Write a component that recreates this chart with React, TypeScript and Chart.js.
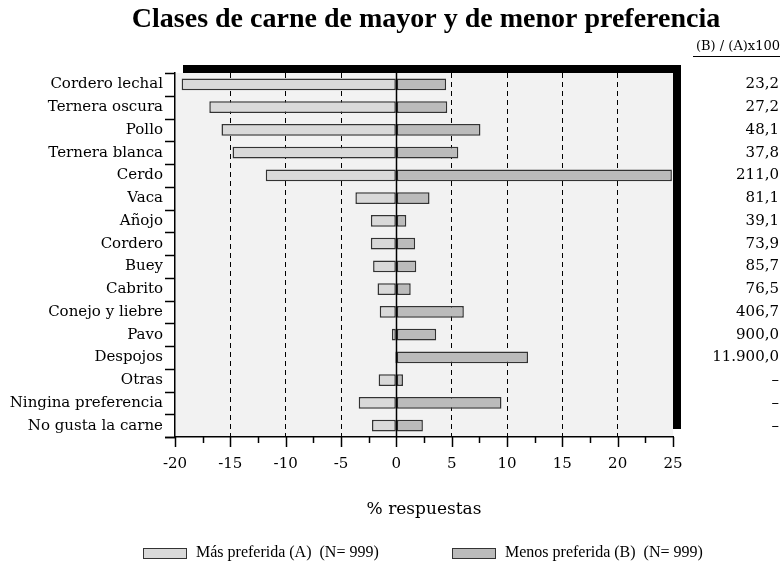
import React, { useEffect, useRef } from "react";
import { Chart, registerables } from "chart.js";

Chart.register(...registerables);

const categories = [
  "Cordero lechal",
  "Ternera oscura",
  "Pollo",
  "Ternera blanca",
  "Cerdo",
  "Vaca",
  "Añojo",
  "Cordero",
  "Buey",
  "Cabrito",
  "Conejo y liebre",
  "Pavo",
  "Despojos",
  "Otras",
  "Ningina preferencia",
  "No gusta la carne",
];
const masPreferida = [-19.4, -16.9, -15.8, -14.8, -11.8, -3.7, -2.3, -2.3, -2.1, -1.7, -1.5, -0.4, -0.1, -1.6, -3.4, -2.2];
const menosPreferida = [4.5, 4.6, 7.6, 5.6, 24.9, 3.0, 0.9, 1.7, 1.8, 1.3, 6.1, 3.6, 11.9, 0.6, 9.5, 2.4];
const ratioLabels = ["23,2", "27,2", "48,1", "37,8", "211,0", "81,1", "39,1", "73,9", "85,7", "76,5", "406,7", "900,0", "11.900,0", "–", "–", "–"];
const xMin = -20;
const xMax = 25;
const xStep = 5;
const titleText = "Clases de carne de mayor y de menor preferencia";
const ratioHeader = "(B) / (A)x100";
const axisTitle = "% respuestas";
const legendA = "Más preferida (A)  (N= 999)";
const legendB = "Menos preferida (B)  (N= 999)";

const colorA = "#d9d9d9";
const colorB = "#bbbbbb";
const SERIF = '"DejaVu Serif", serif';

const decorPlugin = {
  id: "decor",
  beforeDraw(chart: any) {
    const { ctx, chartArea } = chart;
    const { left, right, top, bottom } = chartArea;
    ctx.save();
    ctx.fillStyle = "#fff";
    ctx.fillRect(0, 0, chart.width, chart.height);
    ctx.fillStyle = "#000";
    ctx.fillRect(left + 8, top - 8, right - left, bottom - top);
    ctx.fillStyle = "#f2f2f2";
    ctx.fillRect(left, top, right - left, bottom - top);
    ctx.restore();
  },
  afterDatasetsDraw(chart: any) {
    const { ctx, chartArea, scales } = chart;
    const { left, top, bottom } = chartArea;
    const xs = scales.x;
    const ys = scales.y;
    ctx.save();
    const x0 = Math.round(xs.getPixelForValue(0)) + 0.5;
    ctx.strokeStyle = "#000";
    ctx.lineWidth = 1.5;
    ctx.beginPath();
    ctx.moveTo(x0, top);
    ctx.lineTo(x0, bottom);
    ctx.stroke();
    for (let v = xMin; v <= xMax; v += xStep / 2) {
      const px = Math.round(xs.getPixelForValue(v)) + 0.5;
      const major = Math.abs(v / xStep - Math.round(v / xStep)) < 1e-6;
      ctx.beginPath();
      ctx.moveTo(px, bottom);
      ctx.lineTo(px, bottom + (major ? 10 : 6));
      ctx.stroke();
    }
    ctx.beginPath();
    ctx.moveTo(left - 10, bottom + 0.5);
    ctx.lineTo(left, bottom + 0.5);
    ctx.stroke();
    for (let i = 0; i <= categories.length; i++) {
      const py = Math.round(ys.getPixelForValue(i - 0.5)) + 0.5;
      ctx.beginPath();
      ctx.moveTo(left - 10, py);
      ctx.lineTo(left, py);
      ctx.stroke();
    }
    ctx.restore();
  },
  afterDraw(chart: any) {
    const { ctx, chartArea, scales } = chart;
    const { left, right } = chartArea;
    const ys = scales.y;
    ctx.save();
    ctx.fillStyle = "#000";
    ctx.font = 'bold 28px "Liberation Serif", serif';
    ctx.textAlign = "center";
    ctx.textBaseline = "alphabetic";
    ctx.fillText(titleText, 426, 27);
    ctx.font = "13px " + SERIF;
    ctx.textAlign = "right";
    ctx.fillText(ratioHeader, 780, 50);
    ctx.lineWidth = 1;
    ctx.strokeStyle = "#000";
    ctx.beginPath();
    ctx.moveTo(693, 56.5);
    ctx.lineTo(780, 56.5);
    ctx.stroke();
    ctx.font = "15px " + SERIF;
    ctx.textBaseline = "middle";
    ratioLabels.forEach((t, i) => {
      ctx.fillText(t, 779, ys.getPixelForValue(i));
    });
    ctx.font = "17px " + SERIF;
    ctx.textAlign = "center";
    ctx.fillText(axisTitle, (left + right) / 2, 510);
    const ly = 553;
    const drawItem = (bx: number, color: string, text: string) => {
      ctx.fillStyle = color;
      ctx.fillRect(bx, ly - 5, 43, 10);
      ctx.strokeStyle = "#333";
      ctx.lineWidth = 1;
      ctx.strokeRect(bx + 0.5, ly - 5 + 0.5, 43, 10);
      ctx.fillStyle = "#000";
      ctx.font = '16px "Liberation Serif", serif';
      ctx.textAlign = "left";
      ctx.textBaseline = "middle";
      ctx.fillText(text, bx + 53, ly);
    };
    drawItem(143, colorA, legendA);
    drawItem(452, colorB, legendB);
    ctx.restore();
  },
};

export default function App() {
  const ref = useRef<HTMLCanvasElement | null>(null);
  useEffect(() => {
    if (!ref.current) return;
    const chart = new Chart(ref.current, {
      type: "bar",
      data: {
        labels: categories,
        datasets: [
          {
            label: legendA,
            data: masPreferida,
            backgroundColor: colorA,
            borderColor: "#333",
            borderWidth: 1.5,
            borderSkipped: false,
            grouped: false,
            barPercentage: 0.52,
            categoryPercentage: 1,
          } as any,
          {
            label: legendB,
            data: menosPreferida,
            backgroundColor: colorB,
            borderColor: "#333",
            borderWidth: 1.5,
            borderSkipped: false,
            grouped: false,
            barPercentage: 0.52,
            categoryPercentage: 1,
          } as any,
        ],
      },
      options: {
        indexAxis: "y",
        responsive: false,
        devicePixelRatio: 1,
        animation: false,
        layout: { padding: { left: 0, right: 109, top: 73, bottom: 0 } },
        plugins: {
          legend: { display: false },
          title: { display: false },
          tooltip: { enabled: false },
        },
        scales: {
          x: {
            type: "linear",
            min: xMin,
            max: xMax,
            afterFit: (s: any) => {
              s.height = 133;
            },
            ticks: {
              stepSize: xStep,
              color: "#000",
              font: { family: SERIF, size: 15 },
              padding: 18,
            },
            grid: {
              drawTicks: false,
              lineWidth: 1,
              color: (c: any) => {
                const v = c.tick ? c.tick.value : null;
                return v === xMin || v === 0 || v === xMax ? "rgba(0,0,0,0)" : "#000";
              },
            },
            border: { display: true, color: "#000", width: 1.5, dash: [5, 4] },
          },
          y: {
            type: "category",
            afterFit: (s: any) => {
              s.width = 175;
            },
            ticks: {
              color: "#000",
              font: { family: SERIF, size: 15 },
              padding: 12,
            },
            grid: { display: false, drawTicks: false },
            border: { display: true, color: "#000", width: 1.5 },
          },
        },
      } as any,
      plugins: [decorPlugin],
    });
    return () => chart.destroy();
  }, []);
  return (
    <div style={{ position: "fixed", left: 0, top: 0, width: 782, height: 570, background: "#fff" }}>
      <canvas ref={ref} width={782} height={570} style={{ display: "block" }} />
    </div>
  );
}
